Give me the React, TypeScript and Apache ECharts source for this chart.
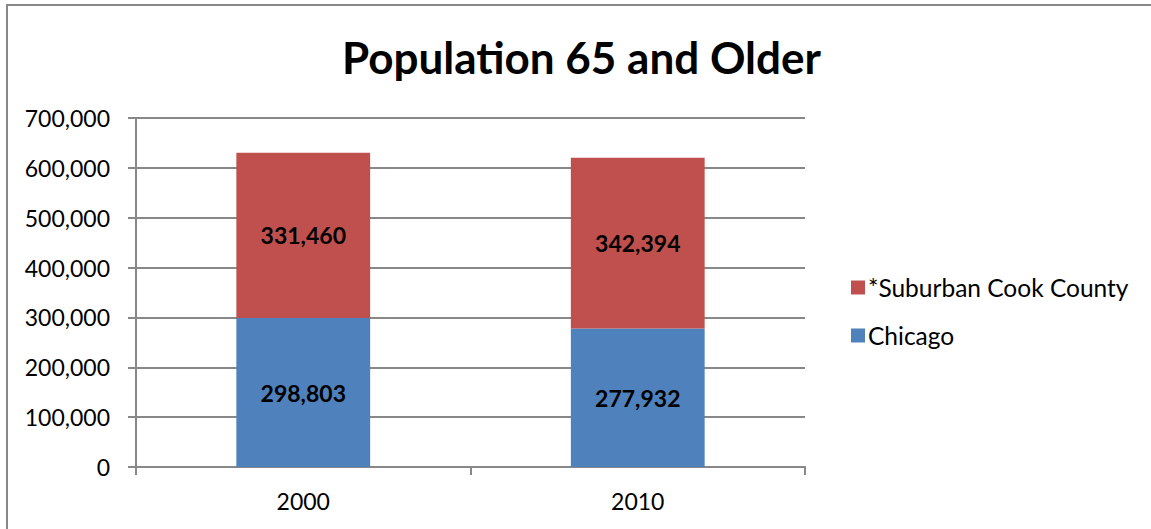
import React, { useEffect, useRef } from "react";
import * as echarts from "echarts";

const categories = ["2000", "2010"];
const chicago = [298803, 277932];
const suburban = [331460, 342394];
const seriesNames = ["Chicago", "*Suburban Cook County"];
const titleText = "Population 65 and Older";

const FONT = "Lato, 'Open Sans', sans-serif";
const fmt = (v: number) => v.toLocaleString("en-US");

export default function App() {
  const ref = useRef<HTMLDivElement>(null);
  useEffect(() => {
    const chart = echarts.init(ref.current!, null, { renderer: "svg" });
    chart.setOption({
      animation: false,
      backgroundColor: "#ffffff",
      textStyle: { fontFamily: FONT },
      title: {
        text: titleText,
        left: 337,
        top: 30,
        textStyle: { fontFamily: FONT, fontSize: 44, fontWeight: "bold", color: "#000" },
      },
      graphic: [
        {
          type: "rect",
          shape: { x: 7, y: 5, width: 1300, height: 700 },
          style: { fill: "none", stroke: "#888", lineWidth: 2 },
          silent: true,
        },
      ],
      legend: {
        orient: "vertical",
        left: 846,
        top: 270,
        itemWidth: 14,
        itemHeight: 14,
        itemGap: 23,
        icon: "rect",
        data: [seriesNames[1], seriesNames[0]],
        textStyle: { fontFamily: FONT, fontSize: 24.5, color: "#000", padding: [0, 0, 0, -2] },
      },
      grid: { left: 136, right: 346, top: 118, bottom: 62, containLabel: false },
      xAxis: {
        type: "category",
        data: categories,
        axisLine: { lineStyle: { color: "#888", width: 2 } },
        axisTick: { show: true, length: 8, lineStyle: { color: "#888", width: 2 } },
        axisLabel: { fontFamily: FONT, fontSize: 23, color: "#000", margin: 22 },
      },
      yAxis: {
        type: "value",
        min: 0,
        max: 700000,
        interval: 100000,
        axisLine: { show: true, lineStyle: { color: "#888", width: 2 } },
        axisTick: { show: true, length: 8, lineStyle: { color: "#888", width: 2 } },
        splitLine: { lineStyle: { color: "#888", width: 2 } },
        axisLabel: {
          fontFamily: FONT,
          fontSize: 23,
          color: "#000",
          margin: 26,
          formatter: (v: number) => fmt(v),
        },
      },
      series: [
        {
          name: seriesNames[0],
          type: "bar",
          stack: "total",
          data: chicago,
          barWidth: "40%",
          itemStyle: { color: "#4F81BD" },
          label: {
            show: true,
            position: "inside",
            formatter: (p: any) => fmt(p.value),
            fontFamily: FONT,
            fontSize: 23,
            fontWeight: "bold",
            color: "#000",
          },
        },
        {
          name: seriesNames[1],
          type: "bar",
          stack: "total",
          data: suburban,
          barWidth: "40%",
          itemStyle: { color: "#C0504D" },
          label: {
            show: true,
            position: "inside",
            formatter: (p: any) => fmt(p.value),
            fontFamily: FONT,
            fontSize: 23,
            fontWeight: "bold",
            color: "#000",
          },
        },
      ],
    });
    return () => chart.dispose();
  }, []);
  return (
    <div
      ref={ref}
      style={{ position: "absolute", left: 0, top: 0, width: 1151, height: 529 }}
    />
  );
}
